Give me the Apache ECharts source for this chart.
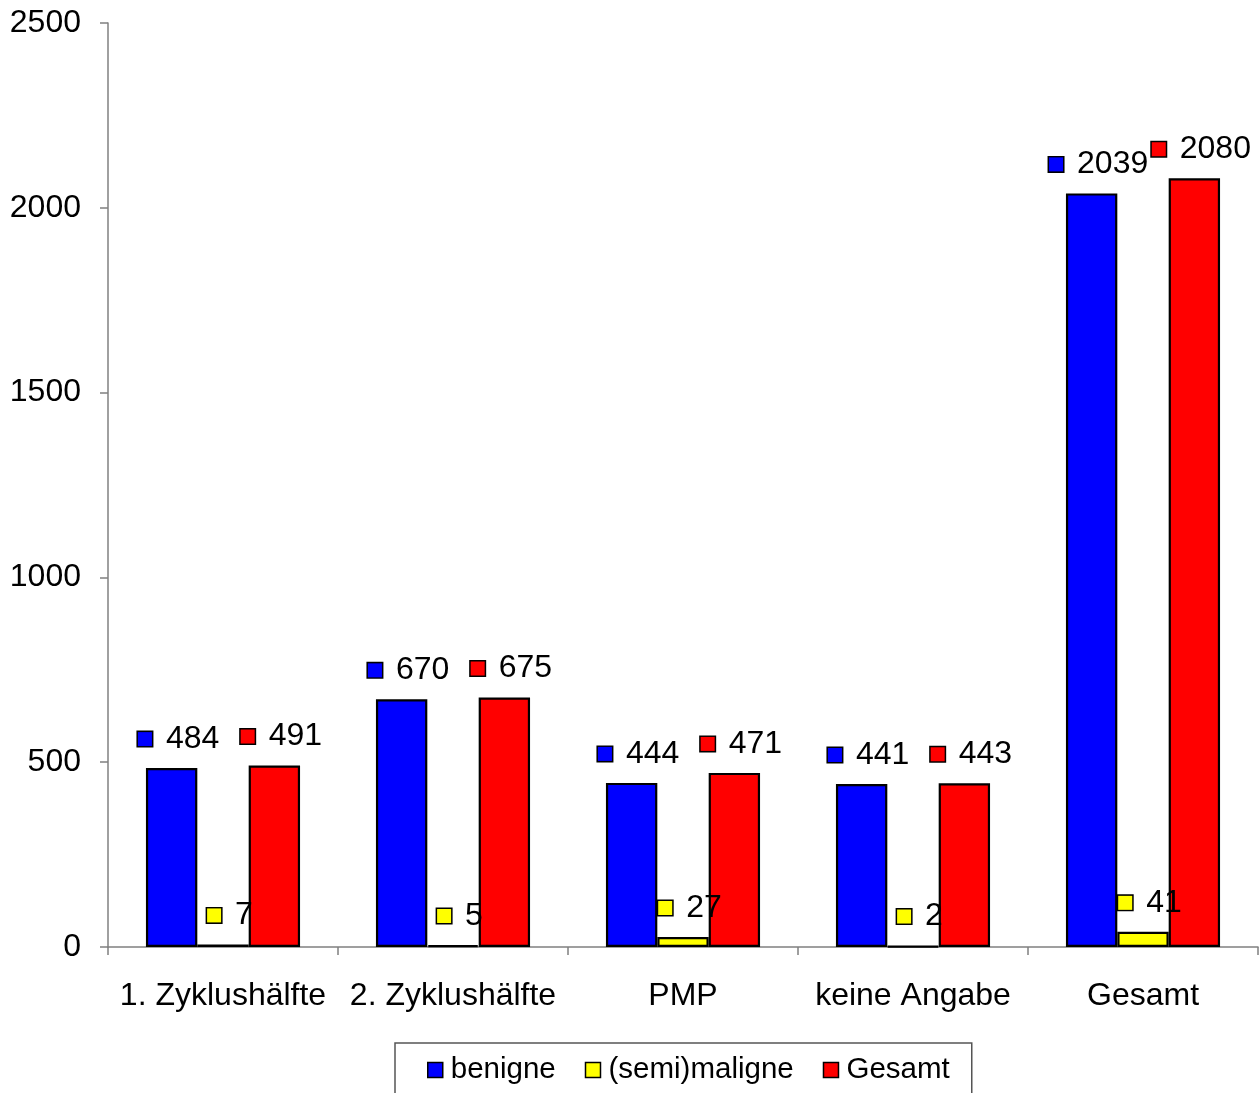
<!DOCTYPE html>
<html><head><meta charset="utf-8">
<script src="https://cdn.jsdelivr.net/npm/echarts@6/dist/echarts.min.js"></script>
<style>html,body{margin:0;padding:0;background:#fff}#c{width:1259px;height:1093px}</style>
</head><body><div id="c"></div>
<script>
const categories = ['1. Zyklushälfte', '2. Zyklushälfte', 'PMP', 'keine Angabe', 'Gesamt'];
const benigne = [484, 670, 444, 441, 2039];
const semimaligne = [7, 5, 27, 2, 41];
const gesamt = [491, 675, 471, 443, 2080];
const seriesNames = ['benigne', '(semi)maligne', 'Gesamt'];
const colors = ['#0000ff', '#ffff00', '#ff0000'];
const FONT = '"Liberation Sans", Arial, sans-serif';

function mkSeries(name, data, color) {
  return {
    name: name, type: 'bar', data: data,
    barGap: '0%', barCategoryGap: '33%',
    itemStyle: { color: color, borderColor: '#000', borderWidth: 2.2 },
    label: {
      show: true, position: 'top', distance: 13, offset: [7, 0],
      formatter: '{s|}{v|{c}}',
      rich: {
        s: { width: 14, height: 14, backgroundColor: color, borderColor: '#000', borderWidth: 1.5, verticalAlign: 'middle' },
        v: { fontSize: 32, fontFamily: FONT, color: '#000', padding: [0, 0, 0, 14], verticalAlign: 'middle' }
      }
    }
  };
}

const chart = echarts.init(document.getElementById('c'), null, { renderer: 'canvas' });
chart.setOption({
  animation: false,
  backgroundColor: '#fff',
  color: colors,
  grid: { left: 108, right: 1, top: 23, bottom: 146, containLabel: false },
  legend: {
    data: seriesNames,
    left: 395, top: 1043,
    padding: [12, 22, 20, 32],
    borderColor: '#555', borderWidth: 1.5,
    itemWidth: 15, itemHeight: 15, itemGap: 29,
    icon: 'rect',
    itemStyle: { borderColor: '#000', borderWidth: 1.5 },
    textStyle: { fontSize: 29.5, fontFamily: FONT, color: '#000', padding: [0, 0, 0, 3] }
  },
  xAxis: {
    type: 'category', data: categories,
    axisLine: { lineStyle: { color: '#808080', width: 1.5 } },
    axisTick: { show: true, alignWithLabel: false, length: 8, lineStyle: { color: '#808080', width: 1.5 } },
    axisLabel: { interval: 0, fontSize: 32, fontFamily: FONT, color: '#000', margin: 33 }
  },
  yAxis: {
    type: 'value', min: 0, max: 2500, interval: 500,
    splitLine: { show: false },
    axisLine: { show: true, lineStyle: { color: '#808080', width: 1.5 } },
    axisTick: { show: true, length: 8, lineStyle: { color: '#808080', width: 1.5 } },
    axisLabel: { fontSize: 32, fontFamily: FONT, color: '#000', margin: 27, formatter: function (v) { return String(v); } }
  },
  series: [
    mkSeries(seriesNames[0], benigne, colors[0]),
    mkSeries(seriesNames[1], semimaligne, colors[1]),
    mkSeries(seriesNames[2], gesamt, colors[2])
  ]
});
</script></body></html>
